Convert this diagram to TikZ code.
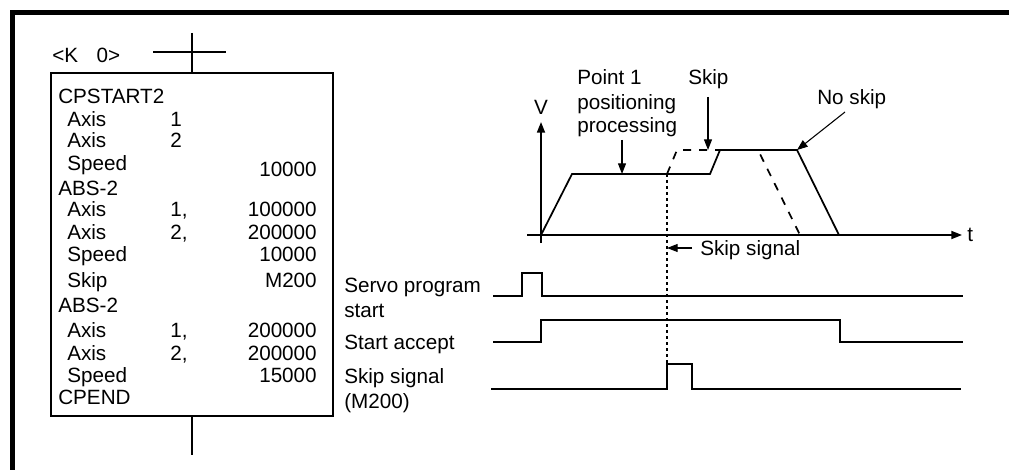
\documentclass[tikz,border=0pt]{standalone}
\usepackage{fontspec}
\setmainfont{Liberation Sans}
\usetikzlibrary{arrows.meta}

\begin{document}
\begin{tikzpicture}[
  x=0.75pt, y=-0.75pt,
  every node/.style={font=\fontsize{15.5}{18}\selectfont, inner sep=0pt},
  txt/.style={anchor=base west},
  num/.style={anchor=base east},
  wire/.style={line width=1.3pt},
  signal/.style={line width=1.3pt, line join=miter},
  axis/.style={line width=1.3pt, -{Triangle[length=8pt,width=6pt]}},
  pointer/.style={line width=0.8pt, -{Triangle[length=8pt,width=6pt]}},
  skipline/.style={line width=1.3pt, dash pattern=on 6pt off 6pt},
  marker/.style={line width=0.8pt, dash pattern=on 2pt off 2.5pt}
]
\useasboundingbox (0,0) rectangle (1009,470);

% Frame
\draw[line width=3.75pt, line join=miter] (1009,13) -- (12,13) -- (12,470);

% Program box
\node[draw, wire, anchor=north west, minimum width=211.5pt, minimum height=257.25pt] (prog) at (50,72) {};
\coordinate (rungtop) at (prog.north |- 0,33);
\coordinate (rungL) at (153,52);
\coordinate (rungR) at (226,52);
\coordinate (rungbot) at (prog.south |- 0,455);
\draw[wire] (rungtop) -- (prog.north);
\draw[wire] (rungL) -- (rungR);
\draw[wire] (prog.south) -- (rungbot);
\node[txt] (kno) at (52,63) {<K\hspace{0.9em}0>};

\node[txt] (cps) at (58,104) {CPSTART2};
\node[txt] (k1) at (67,127) {Axis};  \node[txt] (a1) at (170,127) {1};
\node[txt] (k2) at (67,148) {Axis};  \node[txt] (a2) at (170,148) {2};
\node[txt] (k3) at (67,171) {Speed}; \node[num] (v3) at (317,177) {10000};
\node[txt] (abs1) at (58,196) {ABS-2};
\node[txt] (k4) at (67,217) {Axis};  \node[txt] (a4) at (170,217) {1,}; \node[num] (v4) at (317,217) {100000};
\node[txt] (k5) at (67,239) {Axis};  \node[txt] (a5) at (170,239) {2,}; \node[num] (v5) at (317,239) {200000};
\node[txt] (k6) at (67,262) {Speed}; \node[num] (v6) at (317,262) {10000};
\node[txt] (k7) at (67,287) {Skip};  \node[num] (v7) at (317,287) {M200};
\node[txt] (abs2) at (58,312) {ABS-2};
\node[txt] (k8) at (67,337) {Axis};  \node[txt] (a8) at (170,337) {1,}; \node[num] (v8) at (317,337) {200000};
\node[txt] (k9) at (67,360) {Axis};  \node[txt] (a9) at (170,360) {2,}; \node[num] (v9) at (317,360) {200000};
\node[txt] (k10) at (67,382) {Speed}; \node[num] (v10) at (317,382) {15000};
\node[txt] (cpe) at (58,404) {CPEND};

% Speed graph
\coordinate (O) at (541,235);
\coordinate (vtop) at (541,122);
\coordinate (vbot) at (541,243);
\coordinate (tl) at (527,235);
\coordinate (tr) at (962,235);
\draw[axis] (vbot) -- (vtop);
\draw[axis] (tl) -- (tr);
\node[anchor=base] (V) at (541,115) {V};
\node[txt] (t) at (967,242) {t};

\coordinate (p1) at (572,174);
\coordinate (sk) at (667,174);
\coordinate (p2) at (710,174);
\coordinate (p3) at (720,150);
\coordinate (p4) at (797,150);
\coordinate (p5) at (839,235);
\draw[wire, line join=miter] (O) -- (p1) -- (p2) -- (p3) -- (p4) -- (p5);

\coordinate (d1) at (677,150);
\coordinate (d2) at (758,150);
\coordinate (d3) at (800,235);
\draw[skipline] (sk) -- (d1) -- (d2) -- (d3);

% Labels and pointers
\node[txt] (pt1a) at (577,85) {Point 1};
\node[txt] (pt1b) at (577,110) {positioning};
\node[txt] (pt1c) at (577,133) {processing};
\coordinate (pt1tail) at (622,140);
\coordinate (pt1tip) at (622,174);
\draw[pointer] (pt1tail) -- (pt1tip);

\node[txt] (skip) at (688,85) {Skip};
\coordinate (skiptail) at (708,97);
\coordinate (skiptip) at (708,150);
\draw[pointer] (skiptail) -- (skiptip);

\node[txt] (noskip) at (817,105) {No skip};
\coordinate (noskiptail) at (845,112);
\draw[pointer] (noskiptail) -- (p4);

\node[txt] (sksig) at (700,255) {Skip signal};
\coordinate (sksigtail) at (692,248);
\coordinate (sksigtip) at (667,248);
\draw[pointer] (sksigtail) -- (sksigtip);

% Timing signals
\node[txt] (servo) at (344,292) {Servo program};
\node[txt] (servob) at (344,317) {start};
\node[txt] (accept) at (344,349) {Start accept};
\node[txt] (skipin) at (344,383) {Skip signal};
\node[txt] (skipinb) at (344,408) {(M200)};

\draw[signal] (493,296) -- (522,296) -- (522,273) -- (542,273) -- (542,296) -- (963,296);
\draw[signal] (493,342) -- (541,342) -- (541,320) -- (840,320) -- (840,342) -- (963,342);
\coordinate (skrise) at (667,364);
\draw[signal] (491,389) -- (667,389) -- (skrise) -- (692,364) -- (692,389) -- (961,389);
\draw[marker] (sk) -- (skrise);

\end{tikzpicture}
\end{document}
